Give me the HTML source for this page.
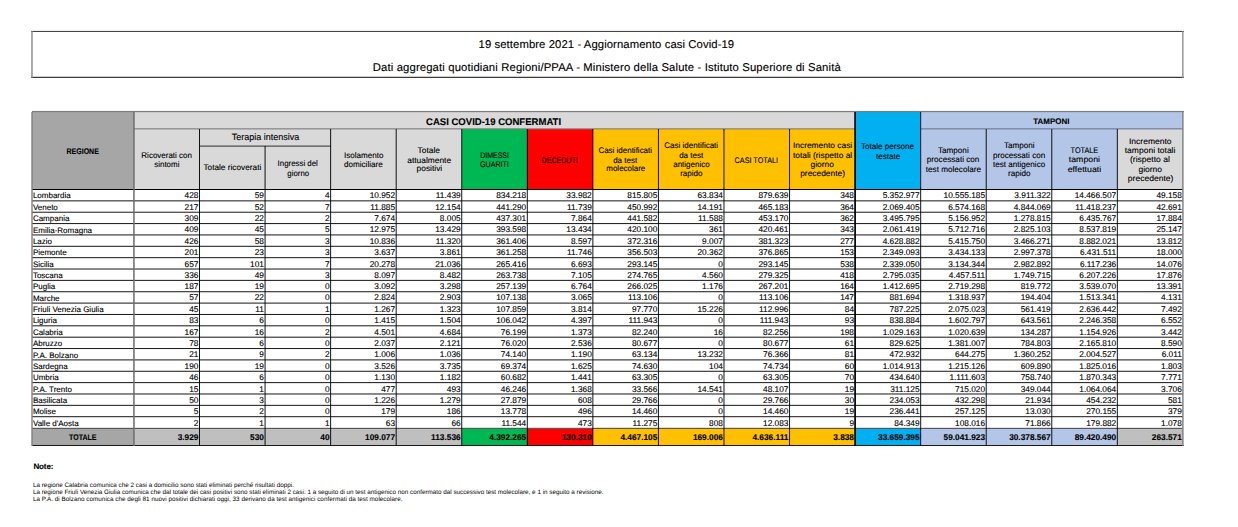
<!DOCTYPE html>
<html><head><meta charset="utf-8"><title>Aggiornamento casi Covid-19</title>
<style>
html,body{margin:0;padding:0;background:#fff;}
body{width:1238px;height:527px;position:relative;overflow:hidden;font-family:"Liberation Sans",sans-serif;color:#000;text-rendering:geometricPrecision;}
.b{position:absolute;}
.x{position:absolute;white-space:nowrap;-webkit-text-stroke:0.12px #000;}
.nn{-webkit-text-stroke:0;}
</style></head>
<body>
<div class="b" style="left:31px;top:30px;width:1153px;height:1px;background:rgba(68,68,68,0.10)"></div>
<div class="b" style="left:31px;top:31px;width:1153px;height:1px;background:rgba(68,68,68,1.00)"></div>
<div class="b" style="left:31px;top:76px;width:1153px;height:1px;background:rgba(42,42,42,0.23)"></div>
<div class="b" style="left:31px;top:77px;width:1153px;height:1px;background:rgba(42,42,42,0.92)"></div>
<div class="b" style="left:31px;top:31px;width:1px;height:47px;background:rgba(136,136,136,0.73)"></div>
<div class="b" style="left:32px;top:31px;width:1px;height:47px;background:rgba(136,136,136,0.67)"></div>
<div class="b" style="left:1182px;top:31px;width:1px;height:47px;background:rgba(144,144,144,0.85)"></div>
<div class="b" style="left:1183px;top:31px;width:1px;height:47px;background:rgba(144,144,144,0.55)"></div>
<div class="x " style="left:478.59px;top:39px;font-size:11.3px;line-height:13.56px;letter-spacing:0.081px;">19 settembre 2021 - Aggiornamento casi Covid-19</div>
<div class="x " style="left:372.77px;top:62px;font-size:11.3px;line-height:13.56px;letter-spacing:0.132px;">Dati aggregati quotidiani Regioni/PPAA - Ministero della Salute - Istituto Superiore di Sanit&agrave;</div>
<div class="b" style="left:32.00px;top:111.55px;width:101.94px;height:77.95px;background:#a6a6a6;"></div>
<div class="b" style="left:133.94px;top:111.55px;width:721.16px;height:17.30px;background:#d9d9d9;"></div>
<div class="b" style="left:133.94px;top:128.85px;width:327.80px;height:60.65px;background:#d9d9d9;"></div>
<div class="b" style="left:461.74px;top:128.85px;width:65.56px;height:60.65px;background:#00b853;"></div>
<div class="b" style="left:527.30px;top:128.85px;width:65.56px;height:60.65px;background:#ff0000;"></div>
<div class="b" style="left:592.86px;top:128.85px;width:262.24px;height:60.65px;background:#ffc000;"></div>
<div class="b" style="left:855.10px;top:111.55px;width:65.56px;height:77.95px;background:#00b0f0;"></div>
<div class="b" style="left:920.66px;top:111.55px;width:262.24px;height:17.30px;background:#b4c6e7;"></div>
<div class="b" style="left:920.66px;top:128.85px;width:196.68px;height:60.65px;background:#b4c6e7;"></div>
<div class="b" style="left:1117.34px;top:128.85px;width:65.56px;height:60.65px;background:#d9d9d9;"></div>
<div class="b" style="left:32.00px;top:428.40px;width:101.94px;height:17.10px;background:#a6a6a6;"></div>
<div class="b" style="left:133.94px;top:428.40px;width:327.80px;height:17.10px;background:#bfbfbf;"></div>
<div class="b" style="left:461.74px;top:428.40px;width:65.56px;height:17.10px;background:#00b853;"></div>
<div class="b" style="left:527.30px;top:428.40px;width:65.56px;height:17.10px;background:#ff0000;"></div>
<div class="b" style="left:592.86px;top:428.40px;width:262.24px;height:17.10px;background:#ffc000;"></div>
<div class="b" style="left:855.10px;top:428.40px;width:65.56px;height:17.10px;background:#00b0f0;"></div>
<div class="b" style="left:920.66px;top:428.40px;width:196.68px;height:17.10px;background:#b4c6e7;"></div>
<div class="b" style="left:1117.34px;top:428.40px;width:65.56px;height:17.10px;background:#bfbfbf;"></div>
<div class="b" style="left:32px;top:189px;width:1151px;height:1px;background:rgba(0,0,0,1.00)"></div>
<div class="b" style="left:32px;top:200px;width:1151px;height:1px;background:rgba(0,0,0,0.59)"></div>
<div class="b" style="left:32px;top:201px;width:1151px;height:1px;background:rgba(0,0,0,0.33)"></div>
<div class="b" style="left:32px;top:211px;width:1151px;height:1px;background:rgba(0,0,0,0.26)"></div>
<div class="b" style="left:32px;top:212px;width:1151px;height:1px;background:rgba(0,0,0,0.66)"></div>
<div class="b" style="left:32px;top:223px;width:1151px;height:1px;background:rgba(0,0,0,0.85)"></div>
<div class="b" style="left:32px;top:224px;width:1151px;height:1px;background:rgba(0,0,0,0.07)"></div>
<div class="b" style="left:32px;top:234px;width:1151px;height:1px;background:rgba(0,0,0,0.52)"></div>
<div class="b" style="left:32px;top:235px;width:1151px;height:1px;background:rgba(0,0,0,0.40)"></div>
<div class="b" style="left:32px;top:245px;width:1151px;height:1px;background:rgba(0,0,0,0.18)"></div>
<div class="b" style="left:32px;top:246px;width:1151px;height:1px;background:rgba(0,0,0,0.74)"></div>
<div class="b" style="left:32px;top:257px;width:1151px;height:1px;background:rgba(0,0,0,0.77)"></div>
<div class="b" style="left:32px;top:258px;width:1151px;height:1px;background:rgba(0,0,0,0.15)"></div>
<div class="b" style="left:32px;top:268px;width:1151px;height:1px;background:rgba(0,0,0,0.44)"></div>
<div class="b" style="left:32px;top:269px;width:1151px;height:1px;background:rgba(0,0,0,0.48)"></div>
<div class="b" style="left:32px;top:279px;width:1151px;height:1px;background:rgba(0,0,0,0.11)"></div>
<div class="b" style="left:32px;top:280px;width:1151px;height:1px;background:rgba(0,0,0,0.81)"></div>
<div class="b" style="left:32px;top:291px;width:1151px;height:1px;background:rgba(0,0,0,0.70)"></div>
<div class="b" style="left:32px;top:292px;width:1151px;height:1px;background:rgba(0,0,0,0.22)"></div>
<div class="b" style="left:32px;top:302px;width:1151px;height:1px;background:rgba(0,0,0,0.37)"></div>
<div class="b" style="left:32px;top:303px;width:1151px;height:1px;background:rgba(0,0,0,0.55)"></div>
<div class="b" style="left:32px;top:313px;width:1151px;height:1px;background:rgba(0,0,0,0.04)"></div>
<div class="b" style="left:32px;top:314px;width:1151px;height:1px;background:rgba(0,0,0,0.88)"></div>
<div class="b" style="left:32px;top:325px;width:1151px;height:1px;background:rgba(0,0,0,0.63)"></div>
<div class="b" style="left:32px;top:326px;width:1151px;height:1px;background:rgba(0,0,0,0.29)"></div>
<div class="b" style="left:32px;top:336px;width:1151px;height:1px;background:rgba(0,0,0,0.29)"></div>
<div class="b" style="left:32px;top:337px;width:1151px;height:1px;background:rgba(0,0,0,0.63)"></div>
<div class="b" style="left:32px;top:348px;width:1151px;height:1px;background:rgba(0,0,0,0.88)"></div>
<div class="b" style="left:32px;top:349px;width:1151px;height:1px;background:rgba(0,0,0,0.04)"></div>
<div class="b" style="left:32px;top:359px;width:1151px;height:1px;background:rgba(0,0,0,0.55)"></div>
<div class="b" style="left:32px;top:360px;width:1151px;height:1px;background:rgba(0,0,0,0.37)"></div>
<div class="b" style="left:32px;top:370px;width:1151px;height:1px;background:rgba(0,0,0,0.22)"></div>
<div class="b" style="left:32px;top:371px;width:1151px;height:1px;background:rgba(0,0,0,0.70)"></div>
<div class="b" style="left:32px;top:382px;width:1151px;height:1px;background:rgba(0,0,0,0.81)"></div>
<div class="b" style="left:32px;top:383px;width:1151px;height:1px;background:rgba(0,0,0,0.11)"></div>
<div class="b" style="left:32px;top:393px;width:1151px;height:1px;background:rgba(0,0,0,0.48)"></div>
<div class="b" style="left:32px;top:394px;width:1151px;height:1px;background:rgba(0,0,0,0.44)"></div>
<div class="b" style="left:32px;top:404px;width:1151px;height:1px;background:rgba(0,0,0,0.15)"></div>
<div class="b" style="left:32px;top:405px;width:1151px;height:1px;background:rgba(0,0,0,0.77)"></div>
<div class="b" style="left:32px;top:416px;width:1151px;height:1px;background:rgba(0,0,0,0.74)"></div>
<div class="b" style="left:32px;top:417px;width:1151px;height:1px;background:rgba(0,0,0,0.18)"></div>
<div class="b" style="left:32px;top:427px;width:1151px;height:1px;background:rgba(88,88,88,0.20)"></div>
<div class="b" style="left:32px;top:428px;width:1151px;height:1px;background:rgba(88,88,88,1.00)"></div>
<div class="b" style="left:32px;top:444px;width:1152px;height:1px;background:rgba(26,26,26,0.02)"></div>
<div class="b" style="left:32px;top:445px;width:1152px;height:1px;background:rgba(26,26,26,1.00)"></div>
<div class="b" style="left:32px;top:446px;width:1152px;height:1px;background:rgba(26,26,26,0.02)"></div>
<div class="b" style="left:32px;top:110px;width:1152px;height:1px;background:rgba(124,124,124,0.08)"></div>
<div class="b" style="left:32px;top:111px;width:1152px;height:1px;background:rgba(124,124,124,1.00)"></div>
<div class="b" style="left:32px;top:112px;width:1152px;height:1px;background:rgba(124,124,124,0.17)"></div>
<div class="b" style="left:134px;top:128px;width:721px;height:1px;background:rgba(122,122,122,0.70)"></div>
<div class="b" style="left:134px;top:129px;width:721px;height:1px;background:rgba(122,122,122,0.40)"></div>
<div class="b" style="left:921px;top:128px;width:262px;height:1px;background:rgba(106,118,144,0.70)"></div>
<div class="b" style="left:921px;top:129px;width:262px;height:1px;background:rgba(106,118,144,0.40)"></div>
<div class="b" style="left:200px;top:145px;width:131px;height:1px;background:rgba(0,0,0,0.32)"></div>
<div class="b" style="left:200px;top:146px;width:131px;height:1px;background:rgba(0,0,0,0.48)"></div>
<div class="b" style="left:31px;top:112px;width:1px;height:334px;background:rgba(128,128,128,0.70)"></div>
<div class="b" style="left:32px;top:112px;width:1px;height:334px;background:rgba(128,128,128,0.70)"></div>
<div class="b" style="left:1182px;top:112px;width:1px;height:334px;background:rgba(133,133,133,0.85)"></div>
<div class="b" style="left:1183px;top:112px;width:1px;height:334px;background:rgba(133,133,133,0.65)"></div>
<div class="b" style="left:133px;top:112px;width:1px;height:334px;background:rgba(108,108,108,0.81)"></div>
<div class="b" style="left:134px;top:112px;width:1px;height:334px;background:rgba(108,108,108,0.69)"></div>
<div class="b" style="left:199px;top:129px;width:1px;height:317px;background:rgba(0,0,0,0.92)"></div>
<div class="b" style="left:264px;top:146px;width:1px;height:300px;background:rgba(0,0,0,0.40)"></div>
<div class="b" style="left:265px;top:146px;width:1px;height:300px;background:rgba(0,0,0,0.52)"></div>
<div class="b" style="left:330px;top:129px;width:1px;height:317px;background:rgba(0,0,0,0.81)"></div>
<div class="b" style="left:331px;top:129px;width:1px;height:317px;background:rgba(0,0,0,0.11)"></div>
<div class="b" style="left:395px;top:129px;width:1px;height:317px;background:rgba(0,0,0,0.29)"></div>
<div class="b" style="left:396px;top:129px;width:1px;height:317px;background:rgba(0,0,0,0.63)"></div>
<div class="b" style="left:461px;top:129px;width:1px;height:317px;background:rgba(0,0,0,0.70)"></div>
<div class="b" style="left:462px;top:129px;width:1px;height:317px;background:rgba(0,0,0,0.22)"></div>
<div class="b" style="left:526px;top:129px;width:1px;height:317px;background:rgba(0,0,0,0.18)"></div>
<div class="b" style="left:527px;top:129px;width:1px;height:317px;background:rgba(0,0,0,0.74)"></div>
<div class="b" style="left:592px;top:129px;width:1px;height:317px;background:rgba(0,0,0,0.59)"></div>
<div class="b" style="left:593px;top:129px;width:1px;height:317px;background:rgba(0,0,0,0.33)"></div>
<div class="b" style="left:657px;top:129px;width:1px;height:317px;background:rgba(0,0,0,0.07)"></div>
<div class="b" style="left:658px;top:129px;width:1px;height:317px;background:rgba(0,0,0,0.85)"></div>
<div class="b" style="left:723px;top:129px;width:1px;height:317px;background:rgba(0,0,0,0.48)"></div>
<div class="b" style="left:724px;top:129px;width:1px;height:317px;background:rgba(0,0,0,0.44)"></div>
<div class="b" style="left:789px;top:129px;width:1px;height:317px;background:rgba(0,0,0,0.88)"></div>
<div class="b" style="left:790px;top:129px;width:1px;height:317px;background:rgba(0,0,0,0.04)"></div>
<div class="b" style="left:854px;top:112px;width:1px;height:334px;background:rgba(0,0,0,0.75)"></div>
<div class="b" style="left:855px;top:112px;width:1px;height:334px;background:rgba(0,0,0,0.95)"></div>
<div class="b" style="left:920px;top:112px;width:1px;height:334px;background:rgba(0,0,0,0.77)"></div>
<div class="b" style="left:921px;top:112px;width:1px;height:334px;background:rgba(0,0,0,0.15)"></div>
<div class="b" style="left:985px;top:129px;width:1px;height:317px;background:rgba(0,0,0,0.26)"></div>
<div class="b" style="left:986px;top:129px;width:1px;height:317px;background:rgba(0,0,0,0.66)"></div>
<div class="b" style="left:1051px;top:129px;width:1px;height:317px;background:rgba(0,0,0,0.66)"></div>
<div class="b" style="left:1052px;top:129px;width:1px;height:317px;background:rgba(0,0,0,0.26)"></div>
<div class="b" style="left:1116px;top:129px;width:1px;height:317px;background:rgba(0,0,0,0.15)"></div>
<div class="b" style="left:1117px;top:129px;width:1px;height:317px;background:rgba(0,0,0,0.77)"></div>
<div class="x hh" style="left:141.06px;top:151px;font-size:8.1px;line-height:9.72px;transform:scaleX(0.9859);transform-origin:50% 50%;">Ricoverati con</div>
<div class="x hh" style="left:153.89px;top:160px;font-size:8.1px;line-height:9.72px;transform:scaleX(0.9859);transform-origin:50% 50%;">sintomi</div>
<div class="x hh" style="left:203.92px;top:163px;font-size:8.1px;line-height:9.72px;transform:scaleX(1.0207);transform-origin:50% 50%;">Totale ricoverati</div>
<div class="x hh" style="left:277.13px;top:159px;font-size:8.1px;line-height:9.72px;transform:scaleX(0.9729);transform-origin:50% 50%;">Ingressi del</div>
<div class="x hh" style="left:286.58px;top:169px;font-size:8.1px;line-height:9.72px;transform:scaleX(0.9729);transform-origin:50% 50%;">giorno</div>
<div class="x hh" style="left:343.59px;top:151px;font-size:8.1px;line-height:9.72px;transform:scaleX(0.9969);transform-origin:50% 50%;">Isolamento</div>
<div class="x hh" style="left:344.04px;top:160px;font-size:8.1px;line-height:9.72px;transform:scaleX(0.9969);transform-origin:50% 50%;">domiciliare</div>
<div class="x hh" style="left:418.15px;top:146px;font-size:8.1px;line-height:9.72px;transform:scaleX(1.0371);transform-origin:50% 50%;">Totale</div>
<div class="x hh" style="left:407.80px;top:156px;font-size:8.1px;line-height:9.72px;transform:scaleX(1.0371);transform-origin:50% 50%;">attualmente</div>
<div class="x hh" style="left:416.58px;top:164px;font-size:8.1px;line-height:9.72px;transform:scaleX(1.0371);transform-origin:50% 50%;">positivi</div>
<div class="x hh" style="left:477.87px;top:151px;font-size:8.1px;line-height:9.72px;transform:scaleX(0.8587);transform-origin:50% 50%;">DIMESSI</div>
<div class="x hh" style="left:478.09px;top:160px;font-size:8.1px;line-height:9.72px;transform:scaleX(0.8797);transform-origin:50% 50%;">GUARITI</div>
<div class="x hh" style="left:539.38px;top:156px;font-size:8.1px;line-height:9.72px;transform:scaleX(0.8743);transform-origin:50% 50%;">DECEDUTI</div>
<div class="x hh" style="left:598.40px;top:146px;font-size:8.1px;line-height:9.72px;transform:scaleX(0.9858);transform-origin:50% 50%;">Casi identificati</div>
<div class="x hh" style="left:613.48px;top:156px;font-size:8.1px;line-height:9.72px;transform:scaleX(0.9858);transform-origin:50% 50%;">da test</div>
<div class="x hh" style="left:605.83px;top:164px;font-size:8.1px;line-height:9.72px;transform:scaleX(0.9858);transform-origin:50% 50%;">molecolare</div>
<div class="x hh" style="left:663.96px;top:141px;font-size:8.1px;line-height:9.72px;transform:scaleX(0.9876);transform-origin:50% 50%;">Casi identificati</div>
<div class="x hh" style="left:679.04px;top:151px;font-size:8.1px;line-height:9.72px;transform:scaleX(0.9876);transform-origin:50% 50%;">da test</div>
<div class="x hh" style="left:672.74px;top:160px;font-size:8.1px;line-height:9.72px;transform:scaleX(0.9876);transform-origin:50% 50%;">antigenico</div>
<div class="x hh" style="left:679.94px;top:169px;font-size:8.1px;line-height:9.72px;transform:scaleX(0.9876);transform-origin:50% 50%;">rapido</div>
<div class="x hh" style="left:732.45px;top:156px;font-size:8.1px;line-height:9.72px;transform:scaleX(0.8927);transform-origin:50% 50%;">CASI TOTALI</div>
<div class="x hh" style="left:793.73px;top:141px;font-size:8.1px;line-height:9.72px;transform:scaleX(1.0371);transform-origin:50% 50%;">Incremento casi</div>
<div class="x hh" style="left:793.73px;top:151px;font-size:8.1px;line-height:9.72px;transform:scaleX(1.0371);transform-origin:50% 50%;">totali (rispetto al</div>
<div class="x hh" style="left:811.06px;top:160px;font-size:8.1px;line-height:9.72px;transform:scaleX(1.0371);transform-origin:50% 50%;">giorno</div>
<div class="x hh" style="left:800.70px;top:169px;font-size:8.1px;line-height:9.72px;transform:scaleX(1.0371);transform-origin:50% 50%;">precedente)</div>
<div class="x hh" style="left:861.31px;top:142px;font-size:8.1px;line-height:9.72px;transform:scaleX(1.0012);transform-origin:50% 50%;">Totale persone</div>
<div class="x hh" style="left:875.72px;top:152px;font-size:8.1px;line-height:9.72px;transform:scaleX(1.0012);transform-origin:50% 50%;">testate</div>
<div class="x hh" style="left:938.13px;top:146px;font-size:8.1px;line-height:9.72px;transform:scaleX(1.0068);transform-origin:50% 50%;">Tamponi</div>
<div class="x hh" style="left:927.33px;top:155px;font-size:8.1px;line-height:9.72px;transform:scaleX(1.0068);transform-origin:50% 50%;">processati con</div>
<div class="x hh" style="left:925.98px;top:165px;font-size:8.1px;line-height:9.72px;transform:scaleX(1.0068);transform-origin:50% 50%;">test molecolare</div>
<div class="x hh" style="left:1003.69px;top:141px;font-size:8.1px;line-height:9.72px;transform:scaleX(1.0012);transform-origin:50% 50%;">Tamponi</div>
<div class="x hh" style="left:992.89px;top:151px;font-size:8.1px;line-height:9.72px;transform:scaleX(1.0012);transform-origin:50% 50%;">processati con</div>
<div class="x hh" style="left:992.88px;top:160px;font-size:8.1px;line-height:9.72px;transform:scaleX(1.0012);transform-origin:50% 50%;">test antigenico</div>
<div class="x hh" style="left:1007.74px;top:169px;font-size:8.1px;line-height:9.72px;transform:scaleX(1.0012);transform-origin:50% 50%;">rapido</div>
<div class="x hh" style="left:1069.18px;top:146px;font-size:8.1px;line-height:9.72px;transform:scaleX(0.8973);transform-origin:50% 50%;">TOTALE</div>
<div class="x hh" style="left:1070.15px;top:155px;font-size:8.1px;line-height:9.72px;transform:scaleX(1.0832);transform-origin:50% 50%;">tamponi</div>
<div class="x hh" style="left:1069.10px;top:165px;font-size:8.1px;line-height:9.72px;transform:scaleX(1.0832);transform-origin:50% 50%;">effettuati</div>
<div class="x hh" style="left:1129.86px;top:137px;font-size:8.1px;line-height:9.72px;transform:scaleX(1.0523);transform-origin:50% 50%;">Incremento</div>
<div class="x hh" style="left:1126.03px;top:146px;font-size:8.1px;line-height:9.72px;transform:scaleX(1.0523);transform-origin:50% 50%;">tamponi totali</div>
<div class="x hh" style="left:1131.21px;top:155px;font-size:8.1px;line-height:9.72px;transform:scaleX(1.0523);transform-origin:50% 50%;">(rispetto al</div>
<div class="x hh" style="left:1138.86px;top:165px;font-size:8.1px;line-height:9.72px;transform:scaleX(1.0523);transform-origin:50% 50%;">giorno</div>
<div class="x hh" style="left:1128.50px;top:174px;font-size:8.1px;line-height:9.72px;transform:scaleX(1.0523);transform-origin:50% 50%;">precedente)</div>
<div class="x " style="left:64.29px;top:147px;font-size:8.1px;line-height:9.72px;transform:scaleX(0.8646);transform-origin:50% 50%;font-weight:bold;">REGIONE</div>
<div class="x " style="left:230.54px;top:132px;font-size:9.2px;line-height:11.04px;transform:scaleX(0.9791);transform-origin:50% 50%;">Terapia intensiva</div>
<div class="x " style="left:425.38px;top:117px;font-size:9.7px;line-height:11.64px;transform:scaleX(0.9851);transform-origin:50% 50%;font-weight:bold;">CASI COVID-19 CONFERMATI</div>
<div class="x " style="left:1032.83px;top:117px;font-size:8.1px;line-height:9.72px;transform:scaleX(0.9824);transform-origin:50% 50%;font-weight:bold;">TAMPONI</div>
<div class="x dd" style="left:32.90px;top:191px;font-size:8.0px;line-height:9.6px;">Lombardia</div>
<div class="x dd" style="left:184.55px;top:191px;font-size:8.3px;line-height:9.96px;">428</div>
<div class="x dd" style="left:254.73px;top:191px;font-size:8.3px;line-height:9.96px;">59</div>
<div class="x dd" style="left:324.90px;top:191px;font-size:8.3px;line-height:9.96px;">4</div>
<div class="x dd" style="left:369.69px;top:191px;font-size:8.3px;line-height:9.96px;">10.952</div>
<div class="x dd" style="left:435.87px;top:191px;font-size:8.3px;line-height:9.96px;">11.439</div>
<div class="x dd" style="left:496.20px;top:191px;font-size:8.3px;line-height:9.96px;">834.218</div>
<div class="x dd" style="left:566.37px;top:191px;font-size:8.3px;line-height:9.96px;">33.982</div>
<div class="x dd" style="left:627.32px;top:191px;font-size:8.3px;line-height:9.96px;">815.805</div>
<div class="x dd" style="left:697.49px;top:191px;font-size:8.3px;line-height:9.96px;">63.834</div>
<div class="x dd" style="left:758.44px;top:191px;font-size:8.3px;line-height:9.96px;">879.639</div>
<div class="x dd" style="left:840.15px;top:191px;font-size:8.3px;line-height:9.96px;">348</div>
<div class="x dd" style="left:882.63px;top:191px;font-size:8.3px;line-height:9.96px;">5.352.977</div>
<div class="x dd" style="left:943.58px;top:191px;font-size:8.3px;line-height:9.96px;">10.555.185</div>
<div class="x dd" style="left:1014.37px;top:191px;font-size:8.3px;line-height:9.96px;">3.911.322</div>
<div class="x dd" style="left:1074.70px;top:191px;font-size:8.3px;line-height:9.96px;">14.466.507</div>
<div class="x dd" style="left:1156.41px;top:191px;font-size:8.3px;line-height:9.96px;">49.158</div>
<div class="x dd" style="left:32.90px;top:203px;font-size:8.0px;line-height:9.6px;">Veneto</div>
<div class="x dd" style="left:184.55px;top:203px;font-size:8.3px;line-height:9.96px;">217</div>
<div class="x dd" style="left:254.73px;top:203px;font-size:8.3px;line-height:9.96px;">52</div>
<div class="x dd" style="left:324.90px;top:203px;font-size:8.3px;line-height:9.96px;">7</div>
<div class="x dd" style="left:370.31px;top:203px;font-size:8.3px;line-height:9.96px;">11.885</div>
<div class="x dd" style="left:435.25px;top:203px;font-size:8.3px;line-height:9.96px;">12.154</div>
<div class="x dd" style="left:496.20px;top:203px;font-size:8.3px;line-height:9.96px;">441.290</div>
<div class="x dd" style="left:566.99px;top:203px;font-size:8.3px;line-height:9.96px;">11.739</div>
<div class="x dd" style="left:627.32px;top:203px;font-size:8.3px;line-height:9.96px;">450.992</div>
<div class="x dd" style="left:697.49px;top:203px;font-size:8.3px;line-height:9.96px;">14.191</div>
<div class="x dd" style="left:758.44px;top:203px;font-size:8.3px;line-height:9.96px;">465.183</div>
<div class="x dd" style="left:840.15px;top:203px;font-size:8.3px;line-height:9.96px;">364</div>
<div class="x dd" style="left:882.63px;top:203px;font-size:8.3px;line-height:9.96px;">2.069.405</div>
<div class="x dd" style="left:948.19px;top:203px;font-size:8.3px;line-height:9.96px;">6.574.168</div>
<div class="x dd" style="left:1013.75px;top:203px;font-size:8.3px;line-height:9.96px;">4.844.069</div>
<div class="x dd" style="left:1075.31px;top:203px;font-size:8.3px;line-height:9.96px;">11.418.237</div>
<div class="x dd" style="left:1156.41px;top:203px;font-size:8.3px;line-height:9.96px;">42.691</div>
<div class="x dd" style="left:32.90px;top:214px;font-size:8.0px;line-height:9.6px;">Campania</div>
<div class="x dd" style="left:184.55px;top:214px;font-size:8.3px;line-height:9.96px;">309</div>
<div class="x dd" style="left:254.73px;top:214px;font-size:8.3px;line-height:9.96px;">22</div>
<div class="x dd" style="left:324.90px;top:214px;font-size:8.3px;line-height:9.96px;">2</div>
<div class="x dd" style="left:374.31px;top:214px;font-size:8.3px;line-height:9.96px;">7.674</div>
<div class="x dd" style="left:439.87px;top:214px;font-size:8.3px;line-height:9.96px;">8.005</div>
<div class="x dd" style="left:496.20px;top:214px;font-size:8.3px;line-height:9.96px;">437.301</div>
<div class="x dd" style="left:570.99px;top:214px;font-size:8.3px;line-height:9.96px;">7.864</div>
<div class="x dd" style="left:627.32px;top:214px;font-size:8.3px;line-height:9.96px;">441.582</div>
<div class="x dd" style="left:698.11px;top:214px;font-size:8.3px;line-height:9.96px;">11.588</div>
<div class="x dd" style="left:758.44px;top:214px;font-size:8.3px;line-height:9.96px;">453.170</div>
<div class="x dd" style="left:840.15px;top:214px;font-size:8.3px;line-height:9.96px;">362</div>
<div class="x dd" style="left:882.63px;top:214px;font-size:8.3px;line-height:9.96px;">3.495.795</div>
<div class="x dd" style="left:948.19px;top:214px;font-size:8.3px;line-height:9.96px;">5.156.952</div>
<div class="x dd" style="left:1013.75px;top:214px;font-size:8.3px;line-height:9.96px;">1.278.815</div>
<div class="x dd" style="left:1079.31px;top:214px;font-size:8.3px;line-height:9.96px;">6.435.767</div>
<div class="x dd" style="left:1156.41px;top:214px;font-size:8.3px;line-height:9.96px;">17.884</div>
<div class="x dd" style="left:32.90px;top:226px;font-size:8.0px;line-height:9.6px;">Emilia-Romagna</div>
<div class="x dd" style="left:184.55px;top:225px;font-size:8.3px;line-height:9.96px;">409</div>
<div class="x dd" style="left:254.73px;top:225px;font-size:8.3px;line-height:9.96px;">45</div>
<div class="x dd" style="left:324.90px;top:225px;font-size:8.3px;line-height:9.96px;">5</div>
<div class="x dd" style="left:369.69px;top:225px;font-size:8.3px;line-height:9.96px;">12.975</div>
<div class="x dd" style="left:435.25px;top:225px;font-size:8.3px;line-height:9.96px;">13.429</div>
<div class="x dd" style="left:496.20px;top:225px;font-size:8.3px;line-height:9.96px;">393.598</div>
<div class="x dd" style="left:566.37px;top:225px;font-size:8.3px;line-height:9.96px;">13.434</div>
<div class="x dd" style="left:627.32px;top:225px;font-size:8.3px;line-height:9.96px;">420.100</div>
<div class="x dd" style="left:709.03px;top:225px;font-size:8.3px;line-height:9.96px;">361</div>
<div class="x dd" style="left:758.44px;top:225px;font-size:8.3px;line-height:9.96px;">420.461</div>
<div class="x dd" style="left:840.15px;top:225px;font-size:8.3px;line-height:9.96px;">343</div>
<div class="x dd" style="left:882.63px;top:225px;font-size:8.3px;line-height:9.96px;">2.061.419</div>
<div class="x dd" style="left:948.19px;top:225px;font-size:8.3px;line-height:9.96px;">5.712.716</div>
<div class="x dd" style="left:1013.75px;top:225px;font-size:8.3px;line-height:9.96px;">2.825.103</div>
<div class="x dd" style="left:1079.31px;top:225px;font-size:8.3px;line-height:9.96px;">8.537.819</div>
<div class="x dd" style="left:1156.41px;top:225px;font-size:8.3px;line-height:9.96px;">25.147</div>
<div class="x dd" style="left:32.90px;top:237px;font-size:8.0px;line-height:9.6px;">Lazio</div>
<div class="x dd" style="left:184.55px;top:237px;font-size:8.3px;line-height:9.96px;">426</div>
<div class="x dd" style="left:254.73px;top:237px;font-size:8.3px;line-height:9.96px;">58</div>
<div class="x dd" style="left:324.90px;top:237px;font-size:8.3px;line-height:9.96px;">3</div>
<div class="x dd" style="left:369.69px;top:237px;font-size:8.3px;line-height:9.96px;">10.836</div>
<div class="x dd" style="left:435.87px;top:237px;font-size:8.3px;line-height:9.96px;">11.320</div>
<div class="x dd" style="left:496.20px;top:237px;font-size:8.3px;line-height:9.96px;">361.406</div>
<div class="x dd" style="left:570.99px;top:237px;font-size:8.3px;line-height:9.96px;">8.597</div>
<div class="x dd" style="left:627.32px;top:237px;font-size:8.3px;line-height:9.96px;">372.316</div>
<div class="x dd" style="left:702.11px;top:237px;font-size:8.3px;line-height:9.96px;">9.007</div>
<div class="x dd" style="left:758.44px;top:237px;font-size:8.3px;line-height:9.96px;">381.323</div>
<div class="x dd" style="left:840.15px;top:237px;font-size:8.3px;line-height:9.96px;">277</div>
<div class="x dd" style="left:882.63px;top:237px;font-size:8.3px;line-height:9.96px;">4.628.882</div>
<div class="x dd" style="left:948.19px;top:237px;font-size:8.3px;line-height:9.96px;">5.415.750</div>
<div class="x dd" style="left:1013.75px;top:237px;font-size:8.3px;line-height:9.96px;">3.466.271</div>
<div class="x dd" style="left:1079.31px;top:237px;font-size:8.3px;line-height:9.96px;">8.882.021</div>
<div class="x dd" style="left:1156.41px;top:237px;font-size:8.3px;line-height:9.96px;">13.812</div>
<div class="x dd" style="left:32.90px;top:248px;font-size:8.0px;line-height:9.6px;">Piemonte</div>
<div class="x dd" style="left:184.55px;top:248px;font-size:8.3px;line-height:9.96px;">201</div>
<div class="x dd" style="left:254.73px;top:248px;font-size:8.3px;line-height:9.96px;">23</div>
<div class="x dd" style="left:324.90px;top:248px;font-size:8.3px;line-height:9.96px;">3</div>
<div class="x dd" style="left:374.31px;top:248px;font-size:8.3px;line-height:9.96px;">3.637</div>
<div class="x dd" style="left:439.87px;top:248px;font-size:8.3px;line-height:9.96px;">3.861</div>
<div class="x dd" style="left:496.20px;top:248px;font-size:8.3px;line-height:9.96px;">361.258</div>
<div class="x dd" style="left:566.99px;top:248px;font-size:8.3px;line-height:9.96px;">11.746</div>
<div class="x dd" style="left:627.32px;top:248px;font-size:8.3px;line-height:9.96px;">356.503</div>
<div class="x dd" style="left:697.49px;top:248px;font-size:8.3px;line-height:9.96px;">20.362</div>
<div class="x dd" style="left:758.44px;top:248px;font-size:8.3px;line-height:9.96px;">376.865</div>
<div class="x dd" style="left:840.15px;top:248px;font-size:8.3px;line-height:9.96px;">153</div>
<div class="x dd" style="left:882.63px;top:248px;font-size:8.3px;line-height:9.96px;">2.349.093</div>
<div class="x dd" style="left:948.19px;top:248px;font-size:8.3px;line-height:9.96px;">3.434.133</div>
<div class="x dd" style="left:1013.75px;top:248px;font-size:8.3px;line-height:9.96px;">2.997.378</div>
<div class="x dd" style="left:1079.93px;top:248px;font-size:8.3px;line-height:9.96px;">6.431.511</div>
<div class="x dd" style="left:1156.41px;top:248px;font-size:8.3px;line-height:9.96px;">18.000</div>
<div class="x dd" style="left:32.90px;top:260px;font-size:8.0px;line-height:9.6px;">Sicilia</div>
<div class="x dd" style="left:184.55px;top:260px;font-size:8.3px;line-height:9.96px;">657</div>
<div class="x dd" style="left:250.11px;top:260px;font-size:8.3px;line-height:9.96px;">101</div>
<div class="x dd" style="left:324.90px;top:260px;font-size:8.3px;line-height:9.96px;">7</div>
<div class="x dd" style="left:369.69px;top:260px;font-size:8.3px;line-height:9.96px;">20.278</div>
<div class="x dd" style="left:435.25px;top:260px;font-size:8.3px;line-height:9.96px;">21.036</div>
<div class="x dd" style="left:496.20px;top:260px;font-size:8.3px;line-height:9.96px;">265.416</div>
<div class="x dd" style="left:570.99px;top:260px;font-size:8.3px;line-height:9.96px;">6.693</div>
<div class="x dd" style="left:627.32px;top:260px;font-size:8.3px;line-height:9.96px;">293.145</div>
<div class="x dd" style="left:718.26px;top:260px;font-size:8.3px;line-height:9.96px;">0</div>
<div class="x dd" style="left:758.44px;top:260px;font-size:8.3px;line-height:9.96px;">293.145</div>
<div class="x dd" style="left:840.15px;top:260px;font-size:8.3px;line-height:9.96px;">538</div>
<div class="x dd" style="left:882.63px;top:260px;font-size:8.3px;line-height:9.96px;">2.339.050</div>
<div class="x dd" style="left:948.19px;top:260px;font-size:8.3px;line-height:9.96px;">3.134.344</div>
<div class="x dd" style="left:1013.75px;top:260px;font-size:8.3px;line-height:9.96px;">2.982.892</div>
<div class="x dd" style="left:1079.93px;top:260px;font-size:8.3px;line-height:9.96px;">6.117.236</div>
<div class="x dd" style="left:1156.41px;top:260px;font-size:8.3px;line-height:9.96px;">14.076</div>
<div class="x dd" style="left:32.90px;top:271px;font-size:8.0px;line-height:9.6px;">Toscana</div>
<div class="x dd" style="left:184.55px;top:271px;font-size:8.3px;line-height:9.96px;">336</div>
<div class="x dd" style="left:254.73px;top:271px;font-size:8.3px;line-height:9.96px;">49</div>
<div class="x dd" style="left:324.90px;top:271px;font-size:8.3px;line-height:9.96px;">3</div>
<div class="x dd" style="left:374.31px;top:271px;font-size:8.3px;line-height:9.96px;">8.097</div>
<div class="x dd" style="left:439.87px;top:271px;font-size:8.3px;line-height:9.96px;">8.482</div>
<div class="x dd" style="left:496.20px;top:271px;font-size:8.3px;line-height:9.96px;">263.738</div>
<div class="x dd" style="left:570.99px;top:271px;font-size:8.3px;line-height:9.96px;">7.105</div>
<div class="x dd" style="left:627.32px;top:271px;font-size:8.3px;line-height:9.96px;">274.765</div>
<div class="x dd" style="left:702.11px;top:271px;font-size:8.3px;line-height:9.96px;">4.560</div>
<div class="x dd" style="left:758.44px;top:271px;font-size:8.3px;line-height:9.96px;">279.325</div>
<div class="x dd" style="left:840.15px;top:271px;font-size:8.3px;line-height:9.96px;">418</div>
<div class="x dd" style="left:882.63px;top:271px;font-size:8.3px;line-height:9.96px;">2.795.035</div>
<div class="x dd" style="left:948.81px;top:271px;font-size:8.3px;line-height:9.96px;">4.457.511</div>
<div class="x dd" style="left:1013.75px;top:271px;font-size:8.3px;line-height:9.96px;">1.749.715</div>
<div class="x dd" style="left:1079.31px;top:271px;font-size:8.3px;line-height:9.96px;">6.207.226</div>
<div class="x dd" style="left:1156.41px;top:271px;font-size:8.3px;line-height:9.96px;">17.876</div>
<div class="x dd" style="left:32.90px;top:282px;font-size:8.0px;line-height:9.6px;">Puglia</div>
<div class="x dd" style="left:184.55px;top:282px;font-size:8.3px;line-height:9.96px;">187</div>
<div class="x dd" style="left:254.73px;top:282px;font-size:8.3px;line-height:9.96px;">19</div>
<div class="x dd" style="left:324.90px;top:282px;font-size:8.3px;line-height:9.96px;">0</div>
<div class="x dd" style="left:374.31px;top:282px;font-size:8.3px;line-height:9.96px;">3.092</div>
<div class="x dd" style="left:439.87px;top:282px;font-size:8.3px;line-height:9.96px;">3.298</div>
<div class="x dd" style="left:496.20px;top:282px;font-size:8.3px;line-height:9.96px;">257.139</div>
<div class="x dd" style="left:570.99px;top:282px;font-size:8.3px;line-height:9.96px;">6.764</div>
<div class="x dd" style="left:627.32px;top:282px;font-size:8.3px;line-height:9.96px;">266.025</div>
<div class="x dd" style="left:702.11px;top:282px;font-size:8.3px;line-height:9.96px;">1.176</div>
<div class="x dd" style="left:758.44px;top:282px;font-size:8.3px;line-height:9.96px;">267.201</div>
<div class="x dd" style="left:840.15px;top:282px;font-size:8.3px;line-height:9.96px;">164</div>
<div class="x dd" style="left:882.63px;top:282px;font-size:8.3px;line-height:9.96px;">1.412.695</div>
<div class="x dd" style="left:948.19px;top:282px;font-size:8.3px;line-height:9.96px;">2.719.298</div>
<div class="x dd" style="left:1020.68px;top:282px;font-size:8.3px;line-height:9.96px;">819.772</div>
<div class="x dd" style="left:1079.31px;top:282px;font-size:8.3px;line-height:9.96px;">3.539.070</div>
<div class="x dd" style="left:1156.41px;top:282px;font-size:8.3px;line-height:9.96px;">13.391</div>
<div class="x dd" style="left:32.90px;top:294px;font-size:8.0px;line-height:9.6px;">Marche</div>
<div class="x dd" style="left:189.17px;top:293px;font-size:8.3px;line-height:9.96px;">57</div>
<div class="x dd" style="left:254.73px;top:293px;font-size:8.3px;line-height:9.96px;">22</div>
<div class="x dd" style="left:324.90px;top:293px;font-size:8.3px;line-height:9.96px;">0</div>
<div class="x dd" style="left:374.31px;top:293px;font-size:8.3px;line-height:9.96px;">2.824</div>
<div class="x dd" style="left:439.87px;top:293px;font-size:8.3px;line-height:9.96px;">2.903</div>
<div class="x dd" style="left:496.20px;top:293px;font-size:8.3px;line-height:9.96px;">107.138</div>
<div class="x dd" style="left:570.99px;top:293px;font-size:8.3px;line-height:9.96px;">3.065</div>
<div class="x dd" style="left:627.93px;top:293px;font-size:8.3px;line-height:9.96px;">113.106</div>
<div class="x dd" style="left:718.26px;top:293px;font-size:8.3px;line-height:9.96px;">0</div>
<div class="x dd" style="left:759.05px;top:293px;font-size:8.3px;line-height:9.96px;">113.106</div>
<div class="x dd" style="left:840.15px;top:293px;font-size:8.3px;line-height:9.96px;">147</div>
<div class="x dd" style="left:889.56px;top:293px;font-size:8.3px;line-height:9.96px;">881.694</div>
<div class="x dd" style="left:948.19px;top:293px;font-size:8.3px;line-height:9.96px;">1.318.937</div>
<div class="x dd" style="left:1020.68px;top:293px;font-size:8.3px;line-height:9.96px;">194.404</div>
<div class="x dd" style="left:1079.31px;top:293px;font-size:8.3px;line-height:9.96px;">1.513.341</div>
<div class="x dd" style="left:1161.03px;top:293px;font-size:8.3px;line-height:9.96px;">4.131</div>
<div class="x dd" style="left:32.90px;top:305px;font-size:8.0px;line-height:9.6px;">Friuli Venezia Giulia</div>
<div class="x dd" style="left:189.17px;top:305px;font-size:8.3px;line-height:9.96px;">45</div>
<div class="x dd" style="left:255.34px;top:305px;font-size:8.3px;line-height:9.96px;">11</div>
<div class="x dd" style="left:324.90px;top:305px;font-size:8.3px;line-height:9.96px;">1</div>
<div class="x dd" style="left:374.31px;top:305px;font-size:8.3px;line-height:9.96px;">1.267</div>
<div class="x dd" style="left:439.87px;top:305px;font-size:8.3px;line-height:9.96px;">1.323</div>
<div class="x dd" style="left:496.20px;top:305px;font-size:8.3px;line-height:9.96px;">107.859</div>
<div class="x dd" style="left:570.99px;top:305px;font-size:8.3px;line-height:9.96px;">3.814</div>
<div class="x dd" style="left:631.93px;top:305px;font-size:8.3px;line-height:9.96px;">97.770</div>
<div class="x dd" style="left:697.49px;top:305px;font-size:8.3px;line-height:9.96px;">15.226</div>
<div class="x dd" style="left:759.05px;top:305px;font-size:8.3px;line-height:9.96px;">112.996</div>
<div class="x dd" style="left:844.77px;top:305px;font-size:8.3px;line-height:9.96px;">84</div>
<div class="x dd" style="left:889.56px;top:305px;font-size:8.3px;line-height:9.96px;">787.225</div>
<div class="x dd" style="left:948.19px;top:305px;font-size:8.3px;line-height:9.96px;">2.075.023</div>
<div class="x dd" style="left:1020.68px;top:305px;font-size:8.3px;line-height:9.96px;">561.419</div>
<div class="x dd" style="left:1079.31px;top:305px;font-size:8.3px;line-height:9.96px;">2.636.442</div>
<div class="x dd" style="left:1161.03px;top:305px;font-size:8.3px;line-height:9.96px;">7.492</div>
<div class="x dd" style="left:32.90px;top:316px;font-size:8.0px;line-height:9.6px;">Liguria</div>
<div class="x dd" style="left:189.17px;top:316px;font-size:8.3px;line-height:9.96px;">83</div>
<div class="x dd" style="left:259.34px;top:316px;font-size:8.3px;line-height:9.96px;">6</div>
<div class="x dd" style="left:324.90px;top:316px;font-size:8.3px;line-height:9.96px;">0</div>
<div class="x dd" style="left:374.31px;top:316px;font-size:8.3px;line-height:9.96px;">1.415</div>
<div class="x dd" style="left:439.87px;top:316px;font-size:8.3px;line-height:9.96px;">1.504</div>
<div class="x dd" style="left:496.20px;top:316px;font-size:8.3px;line-height:9.96px;">106.042</div>
<div class="x dd" style="left:570.99px;top:316px;font-size:8.3px;line-height:9.96px;">4.397</div>
<div class="x dd" style="left:628.55px;top:316px;font-size:8.3px;line-height:9.96px;">111.943</div>
<div class="x dd" style="left:718.26px;top:316px;font-size:8.3px;line-height:9.96px;">0</div>
<div class="x dd" style="left:759.67px;top:316px;font-size:8.3px;line-height:9.96px;">111.943</div>
<div class="x dd" style="left:844.77px;top:316px;font-size:8.3px;line-height:9.96px;">93</div>
<div class="x dd" style="left:889.56px;top:316px;font-size:8.3px;line-height:9.96px;">838.884</div>
<div class="x dd" style="left:948.19px;top:316px;font-size:8.3px;line-height:9.96px;">1.602.797</div>
<div class="x dd" style="left:1020.68px;top:316px;font-size:8.3px;line-height:9.96px;">643.561</div>
<div class="x dd" style="left:1079.31px;top:316px;font-size:8.3px;line-height:9.96px;">2.246.358</div>
<div class="x dd" style="left:1161.03px;top:316px;font-size:8.3px;line-height:9.96px;">6.552</div>
<div class="x dd" style="left:32.90px;top:328px;font-size:8.0px;line-height:9.6px;">Calabria</div>
<div class="x dd" style="left:184.55px;top:328px;font-size:8.3px;line-height:9.96px;">167</div>
<div class="x dd" style="left:254.73px;top:328px;font-size:8.3px;line-height:9.96px;">16</div>
<div class="x dd" style="left:324.90px;top:328px;font-size:8.3px;line-height:9.96px;">2</div>
<div class="x dd" style="left:374.31px;top:328px;font-size:8.3px;line-height:9.96px;">4.501</div>
<div class="x dd" style="left:439.87px;top:328px;font-size:8.3px;line-height:9.96px;">4.684</div>
<div class="x dd" style="left:500.81px;top:328px;font-size:8.3px;line-height:9.96px;">76.199</div>
<div class="x dd" style="left:570.99px;top:328px;font-size:8.3px;line-height:9.96px;">1.373</div>
<div class="x dd" style="left:631.93px;top:328px;font-size:8.3px;line-height:9.96px;">82.240</div>
<div class="x dd" style="left:713.65px;top:328px;font-size:8.3px;line-height:9.96px;">16</div>
<div class="x dd" style="left:763.05px;top:328px;font-size:8.3px;line-height:9.96px;">82.256</div>
<div class="x dd" style="left:840.15px;top:328px;font-size:8.3px;line-height:9.96px;">198</div>
<div class="x dd" style="left:882.63px;top:328px;font-size:8.3px;line-height:9.96px;">1.029.163</div>
<div class="x dd" style="left:948.19px;top:328px;font-size:8.3px;line-height:9.96px;">1.020.639</div>
<div class="x dd" style="left:1020.68px;top:328px;font-size:8.3px;line-height:9.96px;">134.287</div>
<div class="x dd" style="left:1079.31px;top:328px;font-size:8.3px;line-height:9.96px;">1.154.926</div>
<div class="x dd" style="left:1161.03px;top:328px;font-size:8.3px;line-height:9.96px;">3.442</div>
<div class="x dd" style="left:32.90px;top:339px;font-size:8.0px;line-height:9.6px;">Abruzzo</div>
<div class="x dd" style="left:189.17px;top:339px;font-size:8.3px;line-height:9.96px;">78</div>
<div class="x dd" style="left:259.34px;top:339px;font-size:8.3px;line-height:9.96px;">6</div>
<div class="x dd" style="left:324.90px;top:339px;font-size:8.3px;line-height:9.96px;">0</div>
<div class="x dd" style="left:374.31px;top:339px;font-size:8.3px;line-height:9.96px;">2.037</div>
<div class="x dd" style="left:439.87px;top:339px;font-size:8.3px;line-height:9.96px;">2.121</div>
<div class="x dd" style="left:500.81px;top:339px;font-size:8.3px;line-height:9.96px;">76.020</div>
<div class="x dd" style="left:570.99px;top:339px;font-size:8.3px;line-height:9.96px;">2.536</div>
<div class="x dd" style="left:631.93px;top:339px;font-size:8.3px;line-height:9.96px;">80.677</div>
<div class="x dd" style="left:718.26px;top:339px;font-size:8.3px;line-height:9.96px;">0</div>
<div class="x dd" style="left:763.05px;top:339px;font-size:8.3px;line-height:9.96px;">80.677</div>
<div class="x dd" style="left:844.77px;top:339px;font-size:8.3px;line-height:9.96px;">61</div>
<div class="x dd" style="left:889.56px;top:339px;font-size:8.3px;line-height:9.96px;">829.625</div>
<div class="x dd" style="left:948.19px;top:339px;font-size:8.3px;line-height:9.96px;">1.381.007</div>
<div class="x dd" style="left:1020.68px;top:339px;font-size:8.3px;line-height:9.96px;">784.803</div>
<div class="x dd" style="left:1079.31px;top:339px;font-size:8.3px;line-height:9.96px;">2.165.810</div>
<div class="x dd" style="left:1161.03px;top:339px;font-size:8.3px;line-height:9.96px;">8.590</div>
<div class="x dd" style="left:32.90px;top:351px;font-size:8.0px;line-height:9.6px;">P.A. Bolzano</div>
<div class="x dd" style="left:189.17px;top:350px;font-size:8.3px;line-height:9.96px;">21</div>
<div class="x dd" style="left:259.34px;top:350px;font-size:8.3px;line-height:9.96px;">9</div>
<div class="x dd" style="left:324.90px;top:350px;font-size:8.3px;line-height:9.96px;">2</div>
<div class="x dd" style="left:374.31px;top:350px;font-size:8.3px;line-height:9.96px;">1.006</div>
<div class="x dd" style="left:439.87px;top:350px;font-size:8.3px;line-height:9.96px;">1.036</div>
<div class="x dd" style="left:500.81px;top:350px;font-size:8.3px;line-height:9.96px;">74.140</div>
<div class="x dd" style="left:570.99px;top:350px;font-size:8.3px;line-height:9.96px;">1.190</div>
<div class="x dd" style="left:631.93px;top:350px;font-size:8.3px;line-height:9.96px;">63.134</div>
<div class="x dd" style="left:697.49px;top:350px;font-size:8.3px;line-height:9.96px;">13.232</div>
<div class="x dd" style="left:763.05px;top:350px;font-size:8.3px;line-height:9.96px;">76.366</div>
<div class="x dd" style="left:844.77px;top:350px;font-size:8.3px;line-height:9.96px;">81</div>
<div class="x dd" style="left:889.56px;top:350px;font-size:8.3px;line-height:9.96px;">472.932</div>
<div class="x dd" style="left:955.12px;top:350px;font-size:8.3px;line-height:9.96px;">644.275</div>
<div class="x dd" style="left:1013.75px;top:350px;font-size:8.3px;line-height:9.96px;">1.360.252</div>
<div class="x dd" style="left:1079.31px;top:350px;font-size:8.3px;line-height:9.96px;">2.004.527</div>
<div class="x dd" style="left:1161.64px;top:350px;font-size:8.3px;line-height:9.96px;">6.011</div>
<div class="x dd" style="left:32.90px;top:362px;font-size:8.0px;line-height:9.6px;">Sardegna</div>
<div class="x dd" style="left:184.55px;top:362px;font-size:8.3px;line-height:9.96px;">190</div>
<div class="x dd" style="left:254.73px;top:362px;font-size:8.3px;line-height:9.96px;">19</div>
<div class="x dd" style="left:324.90px;top:362px;font-size:8.3px;line-height:9.96px;">0</div>
<div class="x dd" style="left:374.31px;top:362px;font-size:8.3px;line-height:9.96px;">3.526</div>
<div class="x dd" style="left:439.87px;top:362px;font-size:8.3px;line-height:9.96px;">3.735</div>
<div class="x dd" style="left:500.81px;top:362px;font-size:8.3px;line-height:9.96px;">69.374</div>
<div class="x dd" style="left:570.99px;top:362px;font-size:8.3px;line-height:9.96px;">1.625</div>
<div class="x dd" style="left:631.93px;top:362px;font-size:8.3px;line-height:9.96px;">74.630</div>
<div class="x dd" style="left:709.03px;top:362px;font-size:8.3px;line-height:9.96px;">104</div>
<div class="x dd" style="left:763.05px;top:362px;font-size:8.3px;line-height:9.96px;">74.734</div>
<div class="x dd" style="left:844.77px;top:362px;font-size:8.3px;line-height:9.96px;">60</div>
<div class="x dd" style="left:882.63px;top:362px;font-size:8.3px;line-height:9.96px;">1.014.913</div>
<div class="x dd" style="left:948.19px;top:362px;font-size:8.3px;line-height:9.96px;">1.215.126</div>
<div class="x dd" style="left:1020.68px;top:362px;font-size:8.3px;line-height:9.96px;">609.890</div>
<div class="x dd" style="left:1079.31px;top:362px;font-size:8.3px;line-height:9.96px;">1.825.016</div>
<div class="x dd" style="left:1161.03px;top:362px;font-size:8.3px;line-height:9.96px;">1.803</div>
<div class="x dd" style="left:32.90px;top:373px;font-size:8.0px;line-height:9.6px;">Umbria</div>
<div class="x dd" style="left:189.17px;top:373px;font-size:8.3px;line-height:9.96px;">46</div>
<div class="x dd" style="left:259.34px;top:373px;font-size:8.3px;line-height:9.96px;">6</div>
<div class="x dd" style="left:324.90px;top:373px;font-size:8.3px;line-height:9.96px;">0</div>
<div class="x dd" style="left:374.31px;top:373px;font-size:8.3px;line-height:9.96px;">1.130</div>
<div class="x dd" style="left:439.87px;top:373px;font-size:8.3px;line-height:9.96px;">1.182</div>
<div class="x dd" style="left:500.81px;top:373px;font-size:8.3px;line-height:9.96px;">60.682</div>
<div class="x dd" style="left:570.99px;top:373px;font-size:8.3px;line-height:9.96px;">1.441</div>
<div class="x dd" style="left:631.93px;top:373px;font-size:8.3px;line-height:9.96px;">63.305</div>
<div class="x dd" style="left:718.26px;top:373px;font-size:8.3px;line-height:9.96px;">0</div>
<div class="x dd" style="left:763.05px;top:373px;font-size:8.3px;line-height:9.96px;">63.305</div>
<div class="x dd" style="left:844.77px;top:373px;font-size:8.3px;line-height:9.96px;">70</div>
<div class="x dd" style="left:889.56px;top:373px;font-size:8.3px;line-height:9.96px;">434.640</div>
<div class="x dd" style="left:949.43px;top:373px;font-size:8.3px;line-height:9.96px;">1.111.603</div>
<div class="x dd" style="left:1020.68px;top:373px;font-size:8.3px;line-height:9.96px;">758.740</div>
<div class="x dd" style="left:1079.31px;top:373px;font-size:8.3px;line-height:9.96px;">1.870.343</div>
<div class="x dd" style="left:1161.03px;top:373px;font-size:8.3px;line-height:9.96px;">7.771</div>
<div class="x dd" style="left:32.90px;top:385px;font-size:8.0px;line-height:9.6px;">P.A. Trento</div>
<div class="x dd" style="left:189.17px;top:385px;font-size:8.3px;line-height:9.96px;">15</div>
<div class="x dd" style="left:259.34px;top:385px;font-size:8.3px;line-height:9.96px;">1</div>
<div class="x dd" style="left:324.90px;top:385px;font-size:8.3px;line-height:9.96px;">0</div>
<div class="x dd" style="left:381.23px;top:385px;font-size:8.3px;line-height:9.96px;">477</div>
<div class="x dd" style="left:446.79px;top:385px;font-size:8.3px;line-height:9.96px;">493</div>
<div class="x dd" style="left:500.81px;top:385px;font-size:8.3px;line-height:9.96px;">46.246</div>
<div class="x dd" style="left:570.99px;top:385px;font-size:8.3px;line-height:9.96px;">1.368</div>
<div class="x dd" style="left:631.93px;top:385px;font-size:8.3px;line-height:9.96px;">33.566</div>
<div class="x dd" style="left:697.49px;top:385px;font-size:8.3px;line-height:9.96px;">14.541</div>
<div class="x dd" style="left:763.05px;top:385px;font-size:8.3px;line-height:9.96px;">48.107</div>
<div class="x dd" style="left:844.77px;top:385px;font-size:8.3px;line-height:9.96px;">19</div>
<div class="x dd" style="left:890.17px;top:385px;font-size:8.3px;line-height:9.96px;">311.125</div>
<div class="x dd" style="left:955.12px;top:385px;font-size:8.3px;line-height:9.96px;">715.020</div>
<div class="x dd" style="left:1020.68px;top:385px;font-size:8.3px;line-height:9.96px;">349.044</div>
<div class="x dd" style="left:1079.31px;top:385px;font-size:8.3px;line-height:9.96px;">1.064.064</div>
<div class="x dd" style="left:1161.03px;top:385px;font-size:8.3px;line-height:9.96px;">3.706</div>
<div class="x dd" style="left:32.90px;top:396px;font-size:8.0px;line-height:9.6px;">Basilicata</div>
<div class="x dd" style="left:189.17px;top:396px;font-size:8.3px;line-height:9.96px;">50</div>
<div class="x dd" style="left:259.34px;top:396px;font-size:8.3px;line-height:9.96px;">3</div>
<div class="x dd" style="left:324.90px;top:396px;font-size:8.3px;line-height:9.96px;">0</div>
<div class="x dd" style="left:374.31px;top:396px;font-size:8.3px;line-height:9.96px;">1.226</div>
<div class="x dd" style="left:439.87px;top:396px;font-size:8.3px;line-height:9.96px;">1.279</div>
<div class="x dd" style="left:500.81px;top:396px;font-size:8.3px;line-height:9.96px;">27.879</div>
<div class="x dd" style="left:577.91px;top:396px;font-size:8.3px;line-height:9.96px;">608</div>
<div class="x dd" style="left:631.93px;top:396px;font-size:8.3px;line-height:9.96px;">29.766</div>
<div class="x dd" style="left:718.26px;top:396px;font-size:8.3px;line-height:9.96px;">0</div>
<div class="x dd" style="left:763.05px;top:396px;font-size:8.3px;line-height:9.96px;">29.766</div>
<div class="x dd" style="left:844.77px;top:396px;font-size:8.3px;line-height:9.96px;">30</div>
<div class="x dd" style="left:889.56px;top:396px;font-size:8.3px;line-height:9.96px;">234.053</div>
<div class="x dd" style="left:955.12px;top:396px;font-size:8.3px;line-height:9.96px;">432.298</div>
<div class="x dd" style="left:1025.29px;top:396px;font-size:8.3px;line-height:9.96px;">21.934</div>
<div class="x dd" style="left:1086.24px;top:396px;font-size:8.3px;line-height:9.96px;">454.232</div>
<div class="x dd" style="left:1167.95px;top:396px;font-size:8.3px;line-height:9.96px;">581</div>
<div class="x dd" style="left:32.90px;top:407px;font-size:8.0px;line-height:9.6px;">Molise</div>
<div class="x dd" style="left:193.78px;top:407px;font-size:8.3px;line-height:9.96px;">5</div>
<div class="x dd" style="left:259.34px;top:407px;font-size:8.3px;line-height:9.96px;">2</div>
<div class="x dd" style="left:324.90px;top:407px;font-size:8.3px;line-height:9.96px;">0</div>
<div class="x dd" style="left:381.23px;top:407px;font-size:8.3px;line-height:9.96px;">179</div>
<div class="x dd" style="left:446.79px;top:407px;font-size:8.3px;line-height:9.96px;">186</div>
<div class="x dd" style="left:500.81px;top:407px;font-size:8.3px;line-height:9.96px;">13.778</div>
<div class="x dd" style="left:577.91px;top:407px;font-size:8.3px;line-height:9.96px;">496</div>
<div class="x dd" style="left:631.93px;top:407px;font-size:8.3px;line-height:9.96px;">14.460</div>
<div class="x dd" style="left:718.26px;top:407px;font-size:8.3px;line-height:9.96px;">0</div>
<div class="x dd" style="left:763.05px;top:407px;font-size:8.3px;line-height:9.96px;">14.460</div>
<div class="x dd" style="left:844.77px;top:407px;font-size:8.3px;line-height:9.96px;">19</div>
<div class="x dd" style="left:889.56px;top:407px;font-size:8.3px;line-height:9.96px;">236.441</div>
<div class="x dd" style="left:955.12px;top:407px;font-size:8.3px;line-height:9.96px;">257.125</div>
<div class="x dd" style="left:1025.29px;top:407px;font-size:8.3px;line-height:9.96px;">13.030</div>
<div class="x dd" style="left:1086.24px;top:407px;font-size:8.3px;line-height:9.96px;">270.155</div>
<div class="x dd" style="left:1167.95px;top:407px;font-size:8.3px;line-height:9.96px;">379</div>
<div class="x dd" style="left:32.90px;top:419px;font-size:8.0px;line-height:9.6px;">Valle d'Aosta</div>
<div class="x dd" style="left:193.78px;top:419px;font-size:8.3px;line-height:9.96px;">2</div>
<div class="x dd" style="left:259.34px;top:419px;font-size:8.3px;line-height:9.96px;">1</div>
<div class="x dd" style="left:324.90px;top:419px;font-size:8.3px;line-height:9.96px;">1</div>
<div class="x dd" style="left:385.85px;top:419px;font-size:8.3px;line-height:9.96px;">63</div>
<div class="x dd" style="left:451.41px;top:419px;font-size:8.3px;line-height:9.96px;">66</div>
<div class="x dd" style="left:501.43px;top:419px;font-size:8.3px;line-height:9.96px;">11.544</div>
<div class="x dd" style="left:577.91px;top:419px;font-size:8.3px;line-height:9.96px;">473</div>
<div class="x dd" style="left:632.55px;top:419px;font-size:8.3px;line-height:9.96px;">11.275</div>
<div class="x dd" style="left:709.03px;top:419px;font-size:8.3px;line-height:9.96px;">808</div>
<div class="x dd" style="left:763.05px;top:419px;font-size:8.3px;line-height:9.96px;">12.083</div>
<div class="x dd" style="left:849.38px;top:419px;font-size:8.3px;line-height:9.96px;">9</div>
<div class="x dd" style="left:894.17px;top:419px;font-size:8.3px;line-height:9.96px;">84.349</div>
<div class="x dd" style="left:955.12px;top:419px;font-size:8.3px;line-height:9.96px;">108.016</div>
<div class="x dd" style="left:1025.29px;top:419px;font-size:8.3px;line-height:9.96px;">71.866</div>
<div class="x dd" style="left:1086.24px;top:419px;font-size:8.3px;line-height:9.96px;">179.882</div>
<div class="x dd" style="left:1161.03px;top:419px;font-size:8.3px;line-height:9.96px;">1.078</div>
<div class="x " style="left:67.08px;top:433px;font-size:8.1px;line-height:9.72px;transform:scaleX(0.8689);transform-origin:50% 50%;font-weight:bold;">TOTALE</div>
<div class="x " style="left:177.63px;top:433px;font-size:8.3px;line-height:9.96px;font-weight:bold;">3.929</div>
<div class="x " style="left:250.11px;top:433px;font-size:8.3px;line-height:9.96px;font-weight:bold;">530</div>
<div class="x " style="left:320.29px;top:433px;font-size:8.3px;line-height:9.96px;font-weight:bold;">40</div>
<div class="x " style="left:365.08px;top:433px;font-size:8.3px;line-height:9.96px;font-weight:bold;">109.077</div>
<div class="x " style="left:431.09px;top:433px;font-size:8.3px;line-height:9.96px;font-weight:bold;">113.536</div>
<div class="x " style="left:489.27px;top:433px;font-size:8.3px;line-height:9.96px;font-weight:bold;">4.392.265</div>
<div class="x " style="left:561.76px;top:433px;font-size:8.3px;line-height:9.96px;font-weight:bold;">130.310</div>
<div class="x " style="left:620.39px;top:433px;font-size:8.3px;line-height:9.96px;font-weight:bold;">4.467.105</div>
<div class="x " style="left:692.88px;top:433px;font-size:8.3px;line-height:9.96px;font-weight:bold;">169.006</div>
<div class="x " style="left:752.43px;top:433px;font-size:8.3px;line-height:9.96px;font-weight:bold;">4.636.111</div>
<div class="x " style="left:833.23px;top:433px;font-size:8.3px;line-height:9.96px;font-weight:bold;">3.838</div>
<div class="x " style="left:878.02px;top:433px;font-size:8.3px;line-height:9.96px;font-weight:bold;">33.659.395</div>
<div class="x " style="left:943.58px;top:433px;font-size:8.3px;line-height:9.96px;font-weight:bold;">59.041.923</div>
<div class="x " style="left:1009.14px;top:433px;font-size:8.3px;line-height:9.96px;font-weight:bold;">30.378.567</div>
<div class="x " style="left:1074.70px;top:433px;font-size:8.3px;line-height:9.96px;font-weight:bold;">89.420.490</div>
<div class="x " style="left:1151.80px;top:433px;font-size:8.3px;line-height:9.96px;font-weight:bold;">263.571</div>
<div class="x " style="left:33.45px;top:462px;font-size:8.0px;line-height:9.6px;letter-spacing:-0.128px;font-weight:bold;">Note:</div>
<div class="x nn" style="left:33.00px;top:482px;font-size:6.3px;line-height:7.56px;letter-spacing:0.005px;">La regione Calabria comunica che 2 casi a domicilio sono stati eliminati perch&eacute; risultati doppi.</div>
<div class="x nn" style="left:33.00px;top:489px;font-size:6.3px;line-height:7.56px;">La regione Friuli Venezia Giulia comunica che dal totale dei casi positivi sono stati eliminati 2 casi: 1 a seguito di un test antigenico non confermato dal successivo test molecolare, e 1 in seguito a revisione.</div>
<div class="x nn" style="left:33.00px;top:496px;font-size:6.3px;line-height:7.56px;letter-spacing:0.031px;">La P.A. di Bolzano comunica che degli 81 nuovi positivi dichiarati oggi, 33 derivano da test antigenici confermati da test molecolare.</div>
</body></html>
